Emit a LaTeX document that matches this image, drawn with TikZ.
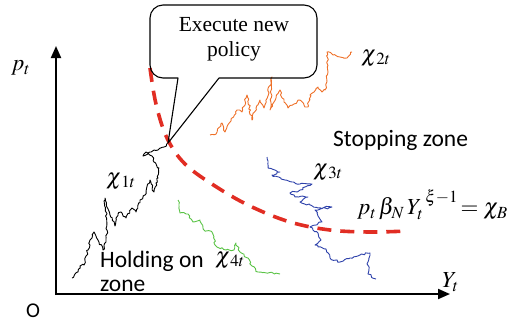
\documentclass[tikz,border=0pt]{standalone}
\usepackage{mathptmx}
\usepackage{fontspec}
\setmainfont{Liberation Serif}
\newfontfamily\zonefont{Carlito}
\usetikzlibrary{arrows.meta,decorations.pathmorphing}

\definecolor{walkorange}{RGB}{238,112,40}
\definecolor{walkblue}{RGB}{45,65,170}
\definecolor{walkgreen}{RGB}{90,195,70}
\definecolor{boundred}{RGB}{225,45,35}

\tikzset{
  axis/.style={line width=2pt,-{Triangle[length=12pt,width=10pt]}},
  walk/.style={line width=0.9pt,line join=round,
    decorate,decoration={random steps,segment length=2.2pt,amplitude=1.1pt}},
  bound/.style={boundred,line width=3.6pt,dash pattern=on 14pt off 9pt},
  mlabel/.style={inner sep=0pt,anchor=west,font=\fontsize{23}{26}\selectfont},
  zone/.style={inner sep=0pt,font=\zonefont\fontsize{23.5}{24}\selectfont},
  callout/.style={line width=1.1pt,line join=round}
}

\begin{document}
\begin{tikzpicture}[x=1pt,y=-1pt]
\useasboundingbox (0,0) rectangle (518,322);
\pgfmathsetseed{7}

% axes
\coordinate (origin) at (56,294);
\coordinate (ytop) at (56,46);
\coordinate (xend) at (450,294);
\draw[axis] ([yshift=-1pt]origin) -- (ytop);
\draw[axis] ([xshift=-1pt]origin) -- (xend);
\node[mlabel] (plab) at (11,68) {$p_t$};
\node[mlabel] (ylab) at (442,282) {$Y_t$};
\node[inner sep=0pt,font=\zonefont\fontsize{21}{22}\selectfont] (olab) at (33,311) {O};

% sample paths
\draw[walk,walkorange] plot coordinates {(210,135) (216,134) (222,123) (225,132)
  (231,121) (237,110) (242,112) (247,95) (252,120) (256,108) (260,100) (264,108)
  (272,77) (270,110) (276,98) (280,90) (284,102) (288,108) (294,104) (300,100)
  (305,107) (308,107) (310,95) (314,92) (318,87) (322,92) (325,90) (328,72)
  (327,52) (333,55) (340,57) (347,58) (352,52)};

\draw[walk,black] plot coordinates {(72,278) (78,272) (80,266) (84,265) (86,256)
  (88,250) (90,240) (94,232) (99,242) (103,250) (106,242) (107,230) (105,198)
  (110,215) (115,226) (118,214) (121,212) (126,218) (132,208) (136,212) (140,200)
  (145,195) (150,180) (154,192) (158,178) (159,168) (154,162) (152,156)
  (146,152) (143,156) (150,152) (158,150) (164,147) (168,143)};

\draw[walk,walkblue] plot coordinates {(267,157) (268,168) (280,172) (272,175)
  (285,180) (292,182) (300,184) (312,184) (300,190) (290,193) (295,197)
  (308,197) (300,202) (310,205) (318,208) (332,207) (315,210) (318,216)
  (322,222) (310,227) (318,233) (321,240) (315,245) (326,249) (330,258)
  (340,262) (350,258) (360,255) (370,253) (368,262) (368,274) (376,279)};

\draw[walk,walkgreen] plot coordinates {(178,200) (180,213) (188,214) (193,222)
  (200,220) (204,230) (212,232) (216,246) (226,250) (234,250) (236,243)
  (240,252) (248,258) (252,266) (258,272) (268,273) (280,274)};

% stopping boundary
\draw[bound] plot[smooth,tension=0.6] coordinates {(150,68) (156,104) (167,138)
  (185,164) (215,186) (250,206) (290,222) (330,230) (370,232) (407,231)};

% callout
\coordinate (tip) at (168,143);
\coordinate (tailL) at (178,78);
\coordinate (tailR) at (219,78);
\draw[callout] (tip) -- (tailL) [rounded corners=13pt] -- (150,78) -- (150,5)
  -- (317,5) -- (317,78) [sharp corners] -- (tailR) -- cycle;
\node[align=center,inner sep=0pt,font=\fontsize{21.5}{25}\selectfont] (msg)
  at (234,39) {Execute new\\policy};

% labels
\node[mlabel] (c1) at (106,181) {$\chi_{\,1t}$};
\node[mlabel] (c2) at (361,58) {$\chi_{\,2t}$};
\node[mlabel] (c3) at (313,172) {$\chi_{\,3t}$};
\node[mlabel] (c4) at (215,260) {$\chi_{\,4t}$};
\node[mlabel] (eq) at (357,205) {$p_t\,\beta_N\,Y_t^{\;\xi-1}\!=\chi_B$};
\node[zone,anchor=west] (stop) at (333,140) {Stopping zone};
\node[zone,anchor=north west,align=left] (hold) at (100,251)
  {Holding on\\zone};
\end{tikzpicture}
\end{document}
